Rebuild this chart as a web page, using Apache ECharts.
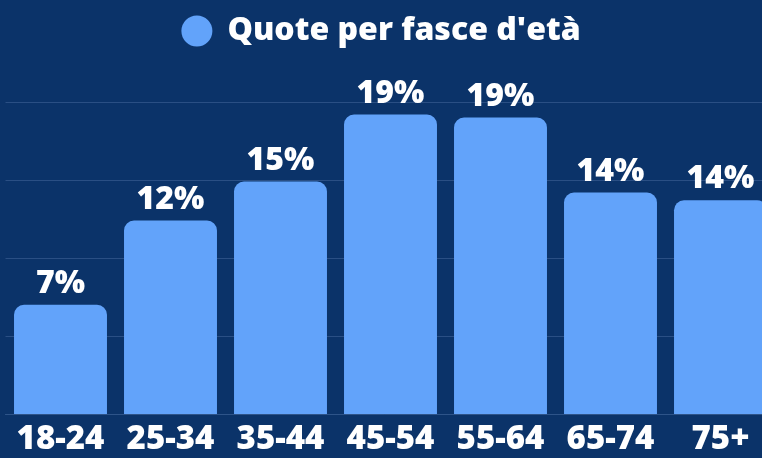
<!DOCTYPE html>
<html>
<head>
<meta charset="utf-8">
<script src="https://cdn.jsdelivr.net/npm/echarts@6/dist/echarts.min.js"></script>
<style>
  html, body { margin: 0; padding: 0; background: #0b3369; }
  #chart { width: 762px; height: 458px; }
</style>
</head>
<body>
<div id="chart"></div>
<script>
// Age bands and their share (%)
const categories = ['18-24', '25-34', '35-44', '45-54', '55-64', '65-74', '75+'];
const shares = [7.0, 12.4, 14.9, 19.2, 19.0, 14.2, 13.7];
const seriesName = "Quote per fasce d'età";

const font = "'Open Sans', 'Noto Sans', sans-serif";
const chart = echarts.init(document.getElementById('chart'), null, { renderer: 'canvas' });

chart.setOption({
  backgroundColor: '#0b3369',
  animation: false,
  legend: {
    top: 10,
    left: 'center',
    icon: 'circle',
    itemWidth: 31,
    itemHeight: 31,
    textStyle: {
      color: '#ffffff',
      fontSize: 32,
      fontWeight: 800,
      fontFamily: font,
      padding: [0, 0, 0, 10]
    },
    data: [seriesName]
  },
  // the plot runs a little past the right edge of the canvas
  grid: {
    left: 5.5,
    top: 102,
    width: 770,
    bottom: 44,
    outerBoundsMode: 'none',
    containLabel: false
  },
  xAxis: {
    type: 'category',
    data: categories,
    axisTick: { show: false },
    axisLine: { show: true, lineStyle: { color: '#2e5489', width: 1 } },
    axisLabel: {
      color: '#ffffff',
      fontSize: 33,
      fontWeight: 800,
      fontFamily: font,
      margin: 9,
      interval: 0
    }
  },
  yAxis: {
    type: 'value',
    min: 0,
    max: 20,
    interval: 5,
    axisLabel: { show: false },
    axisLine: { show: false },
    axisTick: { show: false },
    splitLine: { lineStyle: { color: '#2a4f84', width: 1 } }
  },
  series: [{
    name: seriesName,
    type: 'bar',
    data: shares,
    barCategoryGap: '15.5%',
    itemStyle: { color: '#62a3fa', borderRadius: [10, 10, 0, 0] },
    label: {
      show: true,
      position: 'top',
      distance: 5,
      color: '#ffffff',
      fontSize: 32,
      fontWeight: 800,
      fontFamily: font,
      formatter: p => Math.round(p.value) + '%'
    }
  }]
});
</script>
</body>
</html>
